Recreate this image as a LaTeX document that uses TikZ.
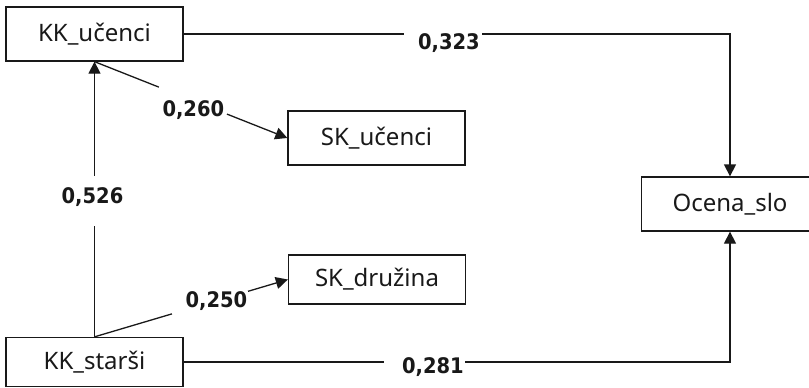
\documentclass[tikz,border=0pt]{standalone}
\usepackage{fontspec}
\setmainfont{Noto Sans}
\newfontfamily\lblfont{DejaVu Sans}
\usetikzlibrary{arrows.meta}
\newcommand{\lbltext}[1]{\scalebox{1}[1.1]{#1}}
\begin{document}
\begin{tikzpicture}[x=1pt,y=-1pt,
  box/.style={draw=black!90, line width=1.3pt, minimum width=177pt, minimum height=54pt, inner sep=0pt, text=black!90, font=\fontsize{24}{28}\selectfont},
  boxs/.style={box, minimum height=49pt},
  conn/.style={draw=black!90, line width=1.3pt},
  arr/.style={conn, -{Triangle[length=12pt,width=12pt]}},
  gap/.style={fill=white, inner sep=0pt, minimum height=5pt, sloped},
  lbl/.style={inner sep=0pt, text=black!90, font=\lblfont\bfseries\fontsize{19.5}{22}\selectfont}]
\useasboundingbox (0,0) rectangle (809,388);
\clip (0,0) rectangle (809,388);
\node[box]  (kku) at (94.5,34)  {KK\_učenci};
\node[box]  (sku) at (376.5,138) {SK\_učenci};
\node[boxs] (skd) at (377,279.5) {SK\_družina};
\node[boxs] (kks) at (94.5,362) {KK\_starši};
\node[box]  (ocs) at (730,204)  {Ocena\_slo};
% KK_starsi -> KK_ucenci
\draw[arr] (kks.north) -- node[gap, pos=0.493, minimum width=50pt] {}
  node[lbl, pos=0.493, xshift=-2pt, yshift=4pt] {\lbltext{0,526}} (kku.south);
% KK_ucenci -> SK_ucenci
\draw[arr] (kku.south) -- node[gap, pos=0.51, minimum width=73pt] {}
  node[lbl, pos=0.51, xshift=0.5pt, yshift=-9.5pt] {\lbltext{0,260}} (sku.west);
% KK_starsi -> SK_druzina
\draw[arr] (kks.north) -- node[gap, pos=0.597, minimum width=79pt] {}
  node[lbl, pos=0.597, xshift=6.5pt, yshift=1.5pt] {\lbltext{0,250}} (skd.west);
% KK_ucenci -> Ocena_slo
\draw[arr] (kku.east) -| node[gap, pos=0.2377, minimum width=78pt] {}
  node[lbl, pos=0.2377, xshift=5.5pt, yshift=-9pt] {\lbltext{0,323}} (ocs.north);
% KK_starsi -> Ocena_slo
\draw[arr] (kks.east) -| node[gap, pos=0.2208, minimum width=81pt] {}
  node[lbl, pos=0.2208, xshift=8pt, yshift=-5.5pt] {\lbltext{0,281}} (ocs.south);
\end{tikzpicture}
\end{document}
